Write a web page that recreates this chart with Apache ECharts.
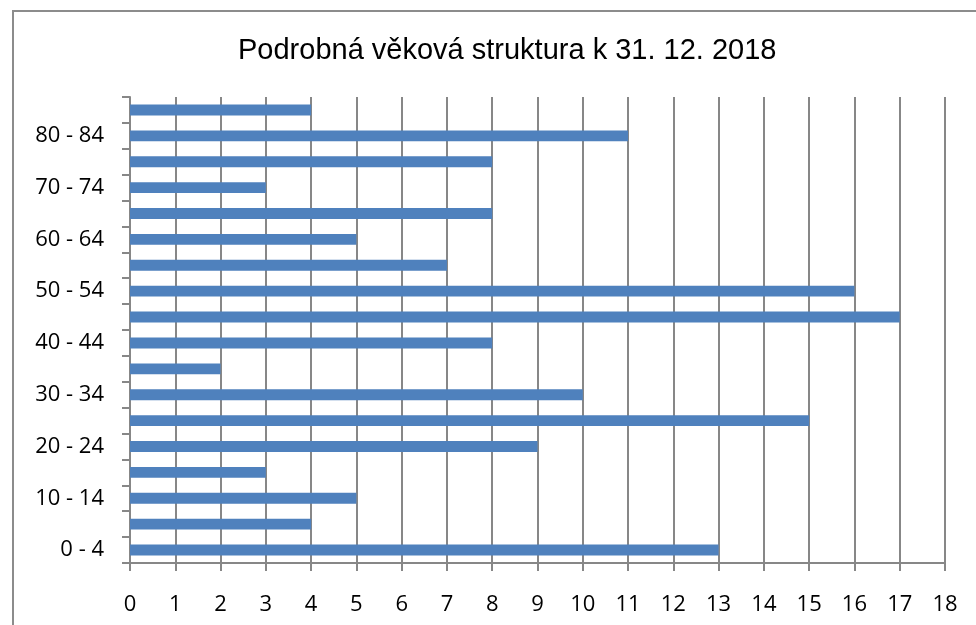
<!DOCTYPE html>
<html><head><meta charset="utf-8">
<script src="https://cdn.jsdelivr.net/npm/echarts@6/dist/echarts.min.js"></script>
<style>html,body{margin:0;padding:0;background:#fff}#c{width:976px;height:625px}</style>
</head><body><div id="c"></div>
<script>
const categories = ["0 - 4","5 - 9","10 - 14","15 - 19","20 - 24","25 - 29","30 - 34","35 - 39","40 - 44","45 - 49","50 - 54","55 - 59","60 - 64","65 - 69","70 - 74","75 - 79","80 - 84","85 +"];
const values = [13,4,5,3,9,15,10,2,8,17,16,7,5,8,3,8,11,4];
const xTicks = [0,18,1];
const titleText = "Podrobná věková struktura k 31. 12. 2018";

const chart = echarts.init(document.getElementById('c'));
chart.setOption({
  animation:false,
  backgroundColor:'#fff',
  graphic:[{type:'rect',shape:{x:13,y:11,width:1000,height:700},style:{fill:'none',stroke:'#8c8c8c',lineWidth:2}}],
  title:{text:titleText,left:233,top:31,itemGap:0,
    textStyle:{fontFamily:'Liberation Sans',fontSize:29,fontWeight:'normal',color:'#000'}},
  grid:{left:130,right:31,top:97,bottom:62,containLabel:false},
  xAxis:{type:'value',min:xTicks[0],max:xTicks[1],interval:xTicks[2],
    axisLine:{show:true,lineStyle:{color:'#878787',width:2}},
    axisTick:{show:true,length:8,lineStyle:{color:'#878787',width:2}},
    axisLabel:{margin:31,fontFamily:'Open Sans',fontSize:22,color:'#000'},
    splitLine:{show:true,lineStyle:{color:'#878787',width:2}}},
  yAxis:{type:'category',data:categories,
    axisLine:{show:true,lineStyle:{color:'#878787',width:2}},
    axisTick:{show:true,length:8,interval:0,lineStyle:{color:'#878787',width:2}},
    axisLabel:{interval:1,margin:26,fontFamily:'Open Sans',fontSize:22,color:'#000'},
    splitLine:{show:false}},
  series:[{type:'bar',data:values,barWidth:'42%',itemStyle:{color:'#4f81bd'}}]
});
</script></body></html>
